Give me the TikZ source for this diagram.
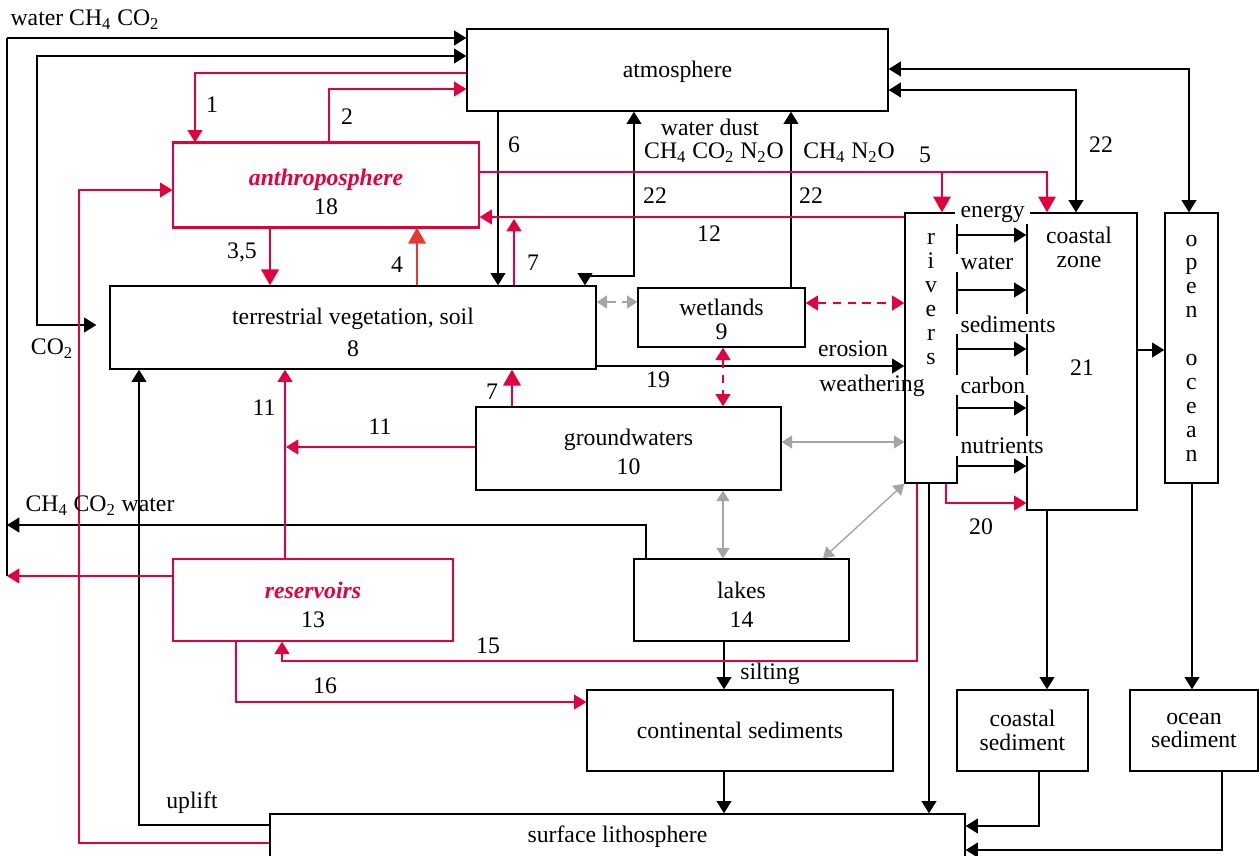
\documentclass[tikz,border=0pt]{standalone}
\usepackage{fontspec}
\setmainfont{Liberation Serif}
\usepackage{tikz}
\usetikzlibrary{arrows.meta}
\definecolor{anthrored}{RGB}{226,0,62}
\definecolor{softred}{RGB}{230,56,50}
\definecolor{flowgrey}{RGB}{165,165,165}
\newcommand{\sub}[1]{\textsubscript{#1}}
\newcommand{\drop}[1]{\rule{0pt}{#1}}
\tikzset{
    every node/.style={font=\fontsize{13.5}{16.5}\selectfont},
    box/.style={draw, rectangle, line width=0.8pt, align=center, inner sep=0pt},
    redbox/.style={box, draw=anthrored},
    vtext/.style={align=center, inner sep=0pt, font=\fontsize{13.5}{13.6}\selectfont},
    tag/.style={inner sep=1pt},
    passing/.style={anchor=west, fill=white, inner xsep=3pt, inner ysep=1pt},
    tip/.tip={Triangle[length=7pt, width=8.5pt]},
    bigtip/.tip={Triangle[length=9pt, width=10pt]},
    greytip/.tip={Triangle[length=6pt, width=7.5pt]},
    flow/.style={-tip, line width=0.8pt},
    twoway/.style={tip-tip, line width=0.8pt},
    human/.style={flow, anthrored},
    humanbig/.style={-bigtip, line width=0.8pt, anthrored},
    exchange/.style={greytip-greytip, line width=0.8pt, flowgrey},
    exchangedash/.style={exchange, dash pattern=on 5pt off 3.5pt},
    humandash/.style={tip-tip, line width=0.8pt, anthrored, dash pattern=on 5pt off 3.5pt}
}

\begin{document}
\begin{tikzpicture}[x=0.02cm, y=-0.02cm]
    \clip (0,0) rectangle (1259,856);

    % compartments
    \node[box, minimum width=8.42cm, minimum height=1.64cm] (atmo) at (677.5,70) {\drop{11.5pt}atmosphere};
    \node[redbox, minimum width=6.12cm, minimum height=1.68cm] (anthro) at (326,185) {\drop{17pt}\textcolor{anthrored}{\textbf{\textit{anthroposphere}}}\\18};
    \draw[anthrored, line width=1.8pt] (anthro.north west) -- (anthro.north east) (anthro.south west) -- (anthro.south east);
    \node[box, minimum width=9.72cm, minimum height=1.66cm] (veg) at (353,327.5) {\drop{15pt}terrestrial vegetation, soil\\[2pt]8};
    \node[box, minimum width=3.34cm, minimum height=1.18cm] (wet) at (721.5,317.5) {\drop{11.5pt}wetlands\\[-3pt]9};
    \node[box, minimum width=6.10cm, minimum height=1.66cm] (ground) at (628.5,448.5) {\drop{13.5pt}groundwaters\\10};
    \node[box, minimum width=1.04cm, minimum height=5.40cm] (rivers) at (931,348) {};
    \node[vtext] (rivers-t) at (931,299) {r\\i\\v\\e\\r\\s};
    \node[box, minimum width=2.20cm, minimum height=5.94cm] (coast) at (1082,361.5) {\drop{16pt}21};
    \node[vtext] (coast-t) at (1079,247) {coastal\\zone};
    \node[box, vtext, minimum width=1.06cm, minimum height=5.40cm] (ocean) at (1191.5,348) {o\\p\\e\\n\\\mbox{}\\o\\c\\e\\a\\n};
    \node[redbox, minimum width=5.60cm, minimum height=1.64cm] (resv) at (313,600) {\drop{15pt}\textcolor{anthrored}{\textbf{\textit{reservoirs}}}\\13};
    \node[box, minimum width=4.30cm, minimum height=1.64cm] (lakes) at (741.5,600) {\drop{15pt}lakes\\14};
    \node[box, minimum width=6.12cm, minimum height=1.62cm] (contsed) at (740,730.5) {continental sediments};
    \node[box, minimum width=2.62cm, minimum height=1.62cm] (coastsed) at (1022.5,730.5) {coastal\\[-3pt]sediment};
    \node[box, minimum width=2.56cm, minimum height=1.62cm] (oceansed) at (1194,730.5) {ocean\\[-3pt]sediment};
    \node[box, minimum width=13.9cm, minimum height=0.92cm] (litho) at (617.5,837) {surface lithosphere};

    \foreach \word/\y in {energy/214, water/263, sediments/324, carbon/385, nutrients/446}
        \node[passing] (pass-\word) at (955,\y) {\word};

    \coordinate (rail top) at (7,38);
    \coordinate (rail bottom) at (7,576);
    \coordinate (rail gas) at (7,525);
    \coordinate (hit12) at (514,219);
    \coordinate (hit11) at (286,447);

    % black fluxes
    \draw[line width=0.8pt] (rail bottom) -- (rail top);
    \draw[flow] (rail top) -- (atmo.west |- rail top);
    \draw[flow] (lakes.north -| 646,0) |- (rail gas);
    \draw[twoway, shorten >=0.26cm] (atmo.west |- 0,56) -| (37,325) -- (veg.west |- 0,325);
    \draw[flow] (atmo.south -| 498,0) -- (veg.north -| 498,0);
    \draw[twoway] (veg.north -| 585,0) |- (634,276) -- (atmo.south -| 634,0);
    \draw[flow] (wet.north -| 791,0) -- (atmo.south -| 791,0);
    \draw[twoway] (atmo.east |- 0,69) -| (ocean.north -| 1189,0);
    \draw[twoway] (atmo.east |- 0,90) -| (coast.north -| 1076,0);
    \draw[flow] (coast.east |- 0,350) -- (ocean.west |- 0,350);
    \foreach \y in {235,290,349,408,466}
        \draw[flow] (rivers.east |- 0,\y) -- (coast.west |- 0,\y);
    \draw[flow] (veg.east |- 0,366) -- (rivers.west |- 0,366);
    \draw[flow] (litho.west |- 0,825) -| (veg.south -| 139,0);
    \draw[flow] (lakes.south -| 724,0) -- (contsed.north -| 724,0);
    \draw[flow] (contsed.south -| 724,0) -- (litho.north -| 724,0);
    \draw[flow] (rivers.south -| 929,0) -- (litho.north -| 929,0);
    \draw[flow] (coast.south -| 1047,0) -- (coastsed.north -| 1047,0);
    \draw[flow] (ocean.south -| 1192,0) -- (oceansed.north -| 1192,0);
    \draw[flow] (coastsed.south -| 1039,0) |- (litho.east |- 0,826);
    \draw[flow] (oceansed.south -| 1222,0) |- (litho.east |- 0,850);

    % grey and dashed exchanges
    \draw[exchangedash] (veg.east |- 0,302) -- (wet.west |- 0,302);
    \draw[humandash] (wet.east |- 0,303) -- (rivers.west |- 0,303);
    \draw[humandash] (wet.south -| 723,0) -- (ground.north -| 723,0);
    \draw[exchange] (ground.east |- 0,442) -- (rivers.west |- 0,442);
    \draw[exchange] (ground.south -| 723,0) -- (lakes.north -| 723,0);
    \draw[exchange] (rivers.south west) -- (lakes.north -| 823,0);

    % human fluxes
    \draw[human] (atmo.west |- 0,73) -| (anthro.north -| 195,0);
    \draw[human] (anthro.north -| 329,0) |- (atmo.west |- 0,89);
    \draw[humanbig] (anthro.south -| 270,0) -- (veg.north -| 270,0);
    \draw[humanbig, softred] (veg.north -| 417,0) -- (anthro.south -| 417,0);
    \draw[human] (veg.north -| 514,0) -- (hit12);
    \draw[human] (rivers.west |- 0,217) -- (anthro.east |- 0,217);
    \draw[humanbig] (anthro.east |- 0,172) -| (coast.north -| 1047,0);
    \draw[humanbig] (942,172) -- (rivers.north -| 942,0);
    \draw[human] (rivers.south -| 946,0) |- (coast.west |- 0,503);
    \draw[humanbig] (ground.north -| 512,0) -- (veg.south -| 512,0);
    \draw[human] (resv.north -| 285,0) -- (veg.south -| 285,0);
    \draw[human] (ground.west |- 0,447) -- (hit11);
    \draw[human] (resv.west |- 0,576) -- (rail bottom);
    \draw[human] (litho.west |- 0,843) -| (79,190) -- (anthro.west |- 0,190);
    \draw[human] (rivers.south -| 917,0) |- (282,661) -- (resv.south -| 282,0);
    \draw[human] (resv.south -| 236,0) |- (contsed.west |- 0,702);

    % flux labels
    \node[tag] (t-top) at (85,20) {water CH\sub{4} CO\sub{2}};
    \node[tag] (t1) at (212,105) {1};
    \node[tag] (t2) at (347,117) {2};
    \node[tag] (t6) at (514,145) {6};
    \node[tag] (t-dust) at (710,127) {water dust};
    \node[tag] (t-gas) at (714,153) {CH\sub{4} CO\sub{2} N\sub{2}O};
    \node[tag] (t-gas2) at (849,153) {CH\sub{4} N\sub{2}O};
    \node[tag] (t5) at (925,155) {5};
    \node[tag] (t22c) at (1101,145) {22};
    \node[tag] (t22a) at (655,196) {22};
    \node[tag] (t22b) at (811,196) {22};
    \node[tag] (t12) at (709,234) {12};
    \node[tag] (t35) at (242,252) {3,5};
    \node[tag] (t4) at (397,265) {4};
    \node[tag] (t7a) at (533,263) {7};
    \node[tag] (t-co2) at (52,349) {CO\sub{2}};
    \node[tag] (t-erosion) at (853,349) {erosion};
    \node[tag] (t19) at (658,380) {19};
    \node[tag] (t-weather) at (872,386) {weathering};
    \node[tag] (t7b) at (492,392) {7};
    \node[tag] (t11a) at (264,408) {11};
    \node[tag] (t11b) at (380,427) {11};
    \node[tag] (t-lake) at (100,506) {CH\sub{4} CO\sub{2} water};
    \node[tag] (t20) at (981,527) {20};
    \node[tag] (t15) at (488,646) {15};
    \node[tag] (t-silt) at (770,674) {silting};
    \node[tag] (t16) at (325,686) {16};
    \node[tag] (t-uplift) at (192,803) {uplift};
\end{tikzpicture}
\end{document}
